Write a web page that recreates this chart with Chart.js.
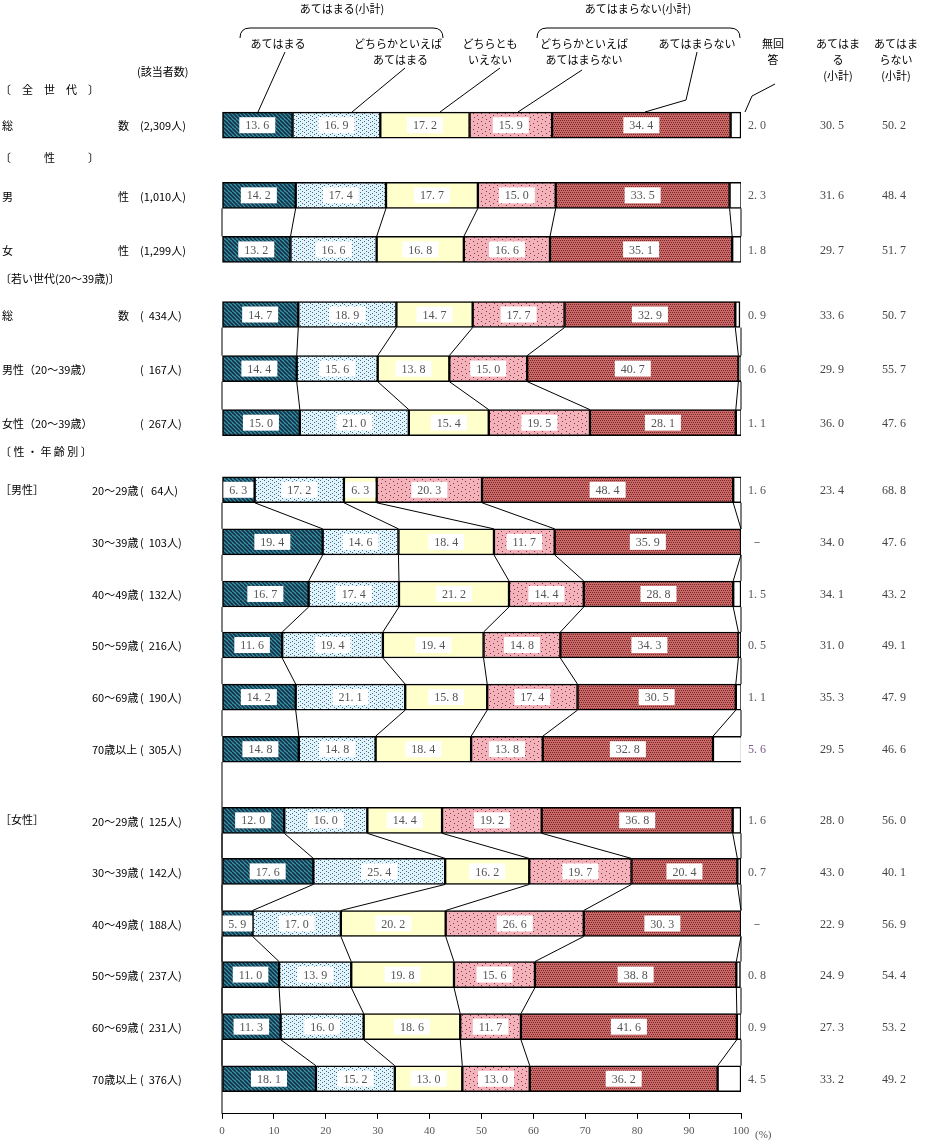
<!DOCTYPE html>
<html><head><meta charset="utf-8">
<script src="https://cdn.jsdelivr.net/npm/chart.js@4.4.0/dist/chart.umd.min.js"></script>
<style>body{margin:0;background:#fff}#wrap{width:930px;height:1146px;position:relative}</style>
</head><body><div id="wrap"><canvas id="c"></canvas></div>
<script>
// categories
const seriesNames = ['あてはまる','どちらかといえばあてはまる','どちらともいえない','どちらかといえばあてはまらない','あてはまらない','無回答'];
const rowLabels = ['総数','男性','女性','総数','男性（20～39歳）','女性（20～39歳）',
  '20～29歳','30～39歳','40～49歳','50～59歳','60～69歳','70歳以上',
  '20～29歳','30～39歳','40～49歳','50～59歳','60～69歳','70歳以上'];
const counts = ['(2,309人)','(1,010人)','(1,299人)','(  434人)','(  167人)','(  267人)',
  '(   64人)','(  103人)','(  132人)','(  216人)','(  190人)','(  305人)',
  '(  125人)','(  142人)','(  188人)','(  237人)','(  231人)','(  376人)'];
// series values (one array per response)
const atehamaru   = [13.6,14.2,13.2,14.7,14.4,15.0, 6.3,19.4,16.7,11.6,14.2,14.8, 12.0,17.6, 5.9,11.0,11.3,18.1];
const dochiraAte  = [16.9,17.4,16.6,18.9,15.6,21.0,17.2,14.6,17.4,19.4,21.1,14.8, 16.0,25.4,17.0,13.9,16.0,15.2];
const dochiraMo   = [17.2,17.7,16.8,14.7,13.8,15.4, 6.3,18.4,21.2,19.4,15.8,18.4, 14.4,16.2,20.2,19.8,18.6,13.0];
const dochiraNai  = [15.9,15.0,16.6,17.7,15.0,19.5,20.3,11.7,14.4,14.8,17.4,13.8, 19.2,19.7,26.6,15.6,11.7,13.0];
const atehamaranai= [34.4,33.5,35.1,32.9,40.7,28.1,48.4,35.9,28.8,34.3,30.5,32.8, 36.8,20.4,30.3,38.8,41.6,36.2];
const mukaito     = [ 2.0, 2.3, 1.8, 0.9, 0.6, 1.1, 1.6, 0.0, 1.5, 0.5, 1.1, 5.6,  1.6, 0.7, 0.0, 0.8, 0.9, 4.5];
const subAte      = [30.5,31.6,29.7,33.6,29.9,36.0,23.4,34.0,34.1,31.0,35.3,29.5, 28.0,43.0,22.9,24.9,27.3,33.2];
const subNai      = [50.2,48.4,51.7,50.7,55.7,47.6,68.8,47.6,43.2,49.1,47.9,46.6, 56.0,40.1,56.9,54.4,53.2,49.2];
const xTicks = [0,10,20,30,40,50,60,70,80,90,100];

// layout (pixel rows) and connector groups
const rowY = [125,195,249,314,368,422,489,541,593,644,696,748,819,870,922,973,1025,1077];
const groups = [[0],[1,2],[3,4,5],[6,7,8,9,10,11],[12,13,14,15,16,17]];
const FONT = '"Noto Sans CJK JP", sans-serif';

function pat(bg, fg, draw) {
  const c = document.createElement('canvas'); c.width = 8; c.height = 8;
  const g = c.getContext('2d'); g.fillStyle = bg; g.fillRect(0,0,8,8);
  g.fillStyle = fg; g.strokeStyle = fg; draw(g);
  return g.createPattern(c, 'repeat');
}
const ctx = document.getElementById('c').getContext('2d');
const fills = [
  pat('#3596a6','#163048', g => { g.lineWidth = 1.6; for (let i=-8;i<=16;i+=4){ g.beginPath(); g.moveTo(i,0); g.lineTo(i+8,8); g.stroke(); } }),
  pat('#e2f4fb','#3a6a88', g => { [[0,0],[4,1],[2,2],[6,3],[0,4],[4,5],[2,6],[6,7]].forEach(p=>g.fillRect(p[0],p[1],1,1)); }),
  pat('#ffffcc','#ffffcc', g => {}),
  pat('#f3b3bb','#8c3040', g => { [[1,1],[5,3],[2,5],[6,7]].forEach(p=>g.fillRect(p[0],p[1],1,1)); }),
  pat('#c86a6a','#7c2424', g => { for (let y=0;y<8;y+=2) for (let x=(y%4?1:0);x<8;x+=2) g.fillRect(x,y,1,1); }),
  '#ffffff'
];
const valueSets = [atehamaru, dochiraAte, dochiraMo, dochiraNai, atehamaranai, mukaito];

const fmt = v => v.toFixed(1).replace('.', '. ');

const overlay = {
  id: 'overlay',
  afterDatasetsDraw(chart) {
    const c = chart.ctx, xs = chart.scales.x, ys = chart.scales.y;
    const half = 13;
    const cum = i => { const a=[0]; valueSets.forEach(s=>a.push(a[a.length-1]+s[i])); return a; };
    c.save();
    // connectors
    c.strokeStyle = '#000'; c.lineWidth = 1;
    groups.forEach(g => { for (let k=0;k<g.length-1;k++) {
      const a = cum(g[k]), b = cum(g[k+1]);
      const y1 = ys.getPixelForValue(rowY[g[k]]) + half, y2 = ys.getPixelForValue(rowY[g[k+1]]) - half;
      for (let j=1;j<6;j++) { c.beginPath(); c.moveTo(xs.getPixelForValue(a[j]), y1); c.lineTo(xs.getPixelForValue(b[j]), y2); c.stroke(); }
      [0,100].forEach(v=>{ c.beginPath(); c.moveTo(xs.getPixelForValue(v), y1); c.lineTo(xs.getPixelForValue(v), y2); c.stroke(); });
    }});
    // value boxes
    c.font = '12px "Liberation Serif", serif'; c.textAlign = 'center'; c.textBaseline = 'middle';
    rowY.forEach((ry, i) => {
      const a = cum(i), y = ys.getPixelForValue(ry);
      for (let j=0;j<5;j++) {
        const x = xs.getPixelForValue((a[j]+a[j+1])/2), t = fmt(valueSets[j][i]);
        const w = c.measureText(t).width + 12;
        c.fillStyle = '#fff'; c.fillRect(x-w/2, y-8, w, 16);
        c.fillStyle = '#555'; c.fillText(t, x, y+1);
      }
      c.fillStyle = (i===11) ? '#7a5a8a' : '#555';
      c.fillText(mukaito[i] ? fmt(mukaito[i]) : '－', 757, y+1);
      c.fillStyle = '#444';
      c.fillText(fmt(subAte[i]), 832, y+1);
      c.fillText(fmt(subNai[i]), 894, y+1);
    });
    // left labels
    c.fillStyle = '#000'; c.textAlign = 'left'; c.font = '11px ' + FONT;
    rowY.forEach((ry, i) => {
      const y = ys.getPixelForValue(ry) + 1;
      if (i < 3) {
        const s = rowLabels[i]; c.fillText(s[0], 2, y); c.fillText(s[1], 118, y);
      } else if (i < 6) {
        if (i === 3) { c.fillText('総', 2, y); c.fillText('数', 118, y); }
        else c.fillText(rowLabels[i], 2, y);
      } else c.fillText(rowLabels[i], 92, y);
      c.fillText(counts[i], 140, y);
    });
    c.fillText('〔　全　世　代　〕', 0, 90);
    c.fillText('〔　　　性　　　〕', 0, 158);
    c.fillText('〔若い世代(20～39歳)〕', 0, 279);
    c.fillText('〔 性 ・ 年 齢 別 〕', 0, 452);
    c.fillText('［男性］', 0, 490);
    c.fillText('［女性］', 0, 820);
    c.fillText('(該当者数)', 137, 72);
    // header
    c.font = '11px ' + FONT; c.textAlign = 'center';
    c.fillText('あてはまる(小計)', 342, 9);
    c.fillText('あてはまらない(小計)', 638, 9);
    const brace = (x1, x2) => { c.beginPath(); c.moveTo(x1, 38); c.quadraticCurveTo(x1, 28, x1+10, 28); c.lineTo(x2-10, 28); c.quadraticCurveTo(x2, 28, x2, 38); c.stroke(); };
    brace(240, 443); brace(537, 740);
    c.fillText('あてはまる', 278, 44);
    c.textAlign = 'right';
    c.fillText('どちらかといえば', 442, 44); c.fillText('あてはまる', 428, 60);
    c.textAlign = 'center';
    c.fillText('どちらとも', 490, 44); c.fillText('いえない', 490, 60);
    c.fillText('どちらかといえば', 584, 44); c.fillText('あてはまらない', 584, 60);
    c.fillText('あてはまらない', 697, 44);
    c.fillText('無回', 773, 44); c.fillText('答', 773, 60);
    c.fillText('あてはま', 838, 44); c.fillText('る', 838, 60); c.fillText('(小計)', 838, 76);
    c.fillText('あてはま', 896, 44); c.fillText('らない', 896, 60); c.fillText('(小計)', 896, 76);
    const lead = [[285,52,258,112],[405,68,352,112],[500,68,440,112],[582,70,518,112],[697,52,686,100,645,112],[775,84,752,96,745,112]];
    lead.forEach(p => { c.beginPath(); c.moveTo(p[0],p[1]); for (let k=2;k<p.length;k+=2) c.lineTo(p[k],p[k+1]); c.stroke(); });
    // left axis fragment
    const x0 = xs.getPixelForValue(0);
    c.beginPath(); c.moveTo(x0, 762); c.lineTo(x0, chart.chartArea.bottom); c.stroke();
    c.font = '11px "Liberation Serif", serif'; c.textAlign = 'left'; c.fillStyle = '#555';
    c.fillText('(%)', xs.getPixelForValue(100) + 14, chart.chartArea.bottom + 21);
    c.restore();
  }
};

new Chart(ctx, {
  type: 'bar',
  data: {
    datasets: valueSets.map((s, k) => ({
      label: seriesNames[k],
      data: s.map((v, i) => ({ x: v, y: rowY[i] })),
      backgroundColor: fills[k],
      borderColor: '#000', borderWidth: 1.5, borderSkipped: false,
      barThickness: 26
    }))
  },
  options: {
    indexAxis: 'y', responsive: true, maintainAspectRatio: false, animation: false,
    layout: { padding: { left: 222, right: 189, top: 0, bottom: 2 } },
    plugins: { legend: { display: false }, tooltip: { enabled: false } },
    scales: {
      x: { type: 'linear', stacked: true, min: 0, max: 100, position: 'bottom',
        afterBuildTicks: ax => { ax.ticks = xTicks.map(v => ({ value: v })); },
        grid: { drawOnChartArea: false, color: '#000', tickLength: 5 },
        border: { color: '#000' },
        ticks: { color: '#555', font: { size: 11, family: '"Liberation Serif", serif' }, maxRotation: 0, padding: 6 } },
      y: { type: 'linear', stacked: true, reverse: true, min: 0, max: 1112, display: false, offset: false }
    }
  },
  plugins: [overlay]
});
</script></body></html>
